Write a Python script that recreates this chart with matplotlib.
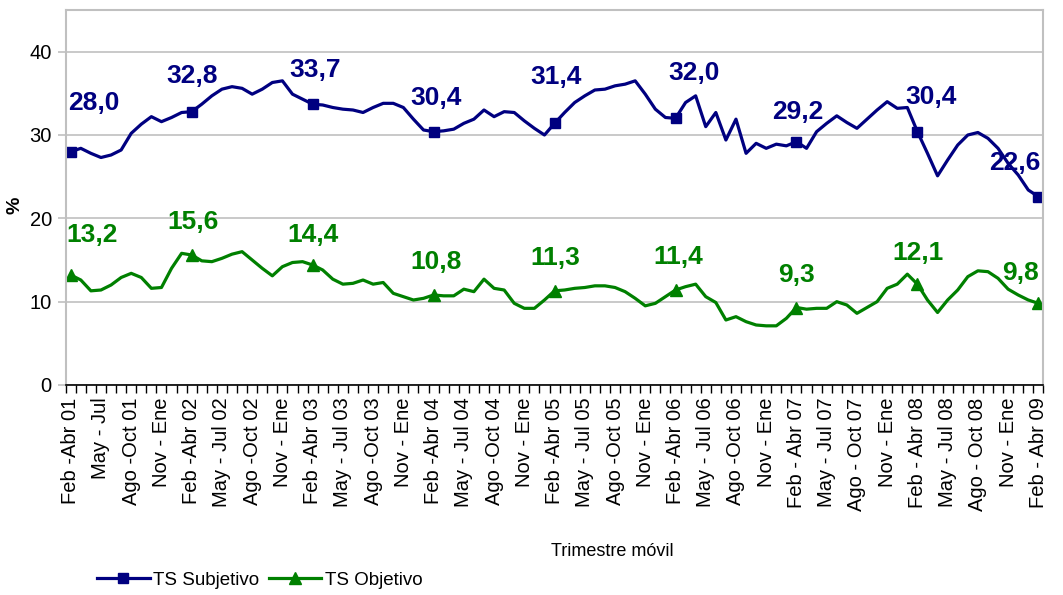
import matplotlib
matplotlib.use("Agg")
import matplotlib.pyplot as plt
from matplotlib.ticker import FixedLocator, NullFormatter

plt.rcParams["font.family"] = ["Liberation Sans", "DejaVu Sans"]

# trimestres móviles Feb-Abr 01 ... Feb-Abr 09 (97 puntos)
ts_subjetivo = [
    28.0, 28.4, 27.8, 27.3, 27.6, 28.2, 30.2, 31.3, 32.2, 31.6, 32.1, 32.7,
    32.8, 33.7, 34.7, 35.5, 35.8, 35.6, 34.9, 35.5, 36.3, 36.5, 34.9, 34.3,
    33.7, 33.6, 33.3, 33.1, 33.0, 32.7, 33.3, 33.8, 33.8, 33.3, 31.9, 30.6,
    30.4, 30.5, 30.7, 31.4, 31.9, 33.0, 32.2, 32.8, 32.7, 31.7, 30.8, 30.0,
    31.4, 32.7, 33.9, 34.7, 35.4, 35.5, 35.9, 36.1, 36.5, 34.9, 33.1, 32.1,
    32.0, 33.9, 34.7, 31.0, 32.7, 29.4, 31.9, 27.8, 29.0, 28.4, 28.9, 28.7,
    29.2, 28.4, 30.4, 31.4, 32.3, 31.5, 30.8, 31.9, 33.0, 34.0, 33.2, 33.3,
    30.4, 27.8, 25.1, 27.0, 28.8, 30.0, 30.3, 29.6, 28.4, 26.6, 25.2, 23.4,
    22.6,
]
ts_objetivo = [
    13.2, 12.6, 11.3, 11.4, 12.0, 12.9, 13.4, 12.9, 11.6, 11.7, 14.0, 15.8,
    15.6, 14.9, 14.8, 15.2, 15.7, 16.0, 15.0, 14.0, 13.1, 14.2, 14.7, 14.8,
    14.4, 13.8, 12.7, 12.1, 12.2, 12.6, 12.1, 12.3, 11.0, 10.6, 10.2, 10.4,
    10.8, 10.7, 10.7, 11.5, 11.2, 12.7, 11.6, 11.4, 9.8, 9.2, 9.2, 10.2,
    11.3, 11.4, 11.6, 11.7, 11.9, 11.9, 11.7, 11.2, 10.4, 9.5, 9.8, 10.6,
    11.4, 11.8, 12.1, 10.6, 9.9, 7.8, 8.2, 7.6, 7.2, 7.1, 7.1, 8.0,
    9.3, 9.1, 9.2, 9.2, 10.0, 9.6, 8.6, 9.3, 10.0, 11.6, 12.1, 13.3,
    12.1, 10.2, 8.7, 10.2, 11.4, 13.0, 13.7, 13.6, 12.8, 11.5, 10.8, 10.2,
    9.8,
]

tick_labels = [
    "Feb -Abr 01", "May - Jul", "Ago -Oct 01", "Nov - Ene",
    "Feb -Abr 02", "May - Jul 02", "Ago -Oct 02", "Nov - Ene",
    "Feb -Abr 03", "May - Jul 03", "Ago -Oct 03", "Nov - Ene",
    "Feb -Abr 04", "May - Jul 04", "Ago -Oct 04", "Nov - Ene",
    "Feb -Abr 05", "May - Jul 05", "Ago -Oct 05", "Nov - Ene",
    "Feb -Abr 06", "May - Jul 06", "Ago -Oct 06", "Nov - Ene",
    "Feb - Abr 07", "May - Jul 07", "Ago - Oct 07", "Nov - Ene",
    "Feb - Abr 08", "May - Jul 08", "Ago - Oct 08", "Nov - Ene",
    "Feb - Abr 09",
]

# offsets (px) de las etiquetas de valor respecto al marcador
off_subj = [(23, 49), (0, 36), (2, 34), (2, 34), (1, 46), (19, 45), (1, 30), (14, 35), (-24, 34)]
off_obj = [(21, 40), (1, 33), (0, 30), (2, 33), (1, 33), (3, 33), (0, 33), (1, 31), (-18, 30)]

navy = "#000080"
green = "#008000"
grid_c = "#c0c0c0"

x = list(range(len(ts_subjetivo)))

fig = plt.figure(figsize=(10.63, 5.95), dpi=100)
ax = fig.add_axes([65.7 / 1063, 1 - 385 / 595, (1043.4 - 65.7) / 1063, 375 / 595])

ax.plot(x, ts_subjetivo, color=navy, lw=2.3, marker="s", markersize=7.5,
        markevery=12, label="TS Subjetivo", solid_joinstyle="round")
ax.plot(x, ts_objetivo, color=green, lw=2.3, marker="^", markersize=9,
        markevery=12, label="TS Objetivo", solid_joinstyle="round")

for k, i in enumerate(range(0, len(x), 12)):
    v = ts_subjetivo[i]
    ax.annotate(f"{v:.1f}".replace(".", ","), (i, v), xytext=off_subj[k],
                textcoords="offset pixels", ha="center", va="center",
                fontsize=19, fontweight="bold", color=navy)
    v = ts_objetivo[i]
    ax.annotate(f"{v:.1f}".replace(".", ","), (i, v), xytext=off_obj[k],
                textcoords="offset pixels", ha="center", va="center",
                fontsize=19, fontweight="bold", color=green)

ax.set_xlim(-0.5, len(x) - 0.5)
ax.set_ylim(0, 45)
ax.set_yticks([0, 10, 20, 30, 40])
ax.yaxis.grid(True, color=grid_c, lw=1.2)
ax.set_axisbelow(True)

ax.set_xticks(range(0, len(x), 3))
ax.set_xticklabels(tick_labels, rotation=90, fontsize=14.5)
ax.xaxis.set_minor_locator(FixedLocator([i - 0.5 for i in range(len(x) + 1)]))
ax.xaxis.set_minor_formatter(NullFormatter())
ax.tick_params(axis="x", which="major", length=0, pad=9)
ax.tick_params(axis="x", which="minor", length=6, width=1, color="black", direction="out")
ax.tick_params(axis="y", length=6, width=1.2, color=grid_c, labelsize=14.5, pad=4)

for s in ["left", "top", "right"]:
    ax.spines[s].set_color(grid_c)
    ax.spines[s].set_linewidth(1.5)
ax.spines["bottom"].set_color("black")
ax.spines["bottom"].set_linewidth(1.2)

fig.text(15 / 1063, 1 - 205 / 595, "%", rotation=90, fontsize=14, fontweight="bold",
         ha="center", va="center")
fig.text(612 / 1063, 1 - 551 / 595, "Trimestre móvil", fontsize=13,
         ha="center", va="center")

fig.legend(loc="center left", bbox_to_anchor=(97 / 1063, 1 - 580 / 595), ncol=2,
           frameon=False, fontsize=13.5, handlelength=2.8, handletextpad=0.2,
           columnspacing=0.5, borderpad=0, borderaxespad=0)

fig.savefig("out.png", dpi=100)
